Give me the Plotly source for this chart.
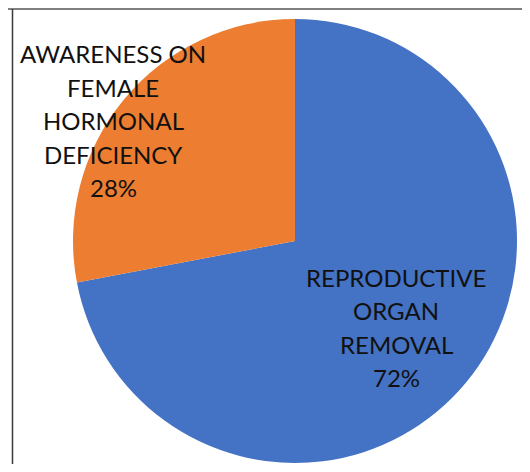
import plotly.graph_objects as go

categories = ["REPRODUCTIVE ORGAN REMOVAL", "AWARENESS ON FEMALE HORMONAL DEFICIENCY"]
label_lines = [["REPRODUCTIVE", "ORGAN", "REMOVAL"], ["AWARENESS ON", "FEMALE", "HORMONAL", "DEFICIENCY"]]
values = [72, 28]
colors = ["#4472C4", "#ED7D31"]

# figure size (page body has an 8px default margin)
W, H = 514, 456
total = sum(values)
CX, CY, R = 287, 233, 222  # pie centre / radius in px from top-left

fig = go.Figure()
fig.add_trace(go.Pie(
    labels=categories,
    values=values,
    sort=False,
    direction="clockwise",
    rotation=0,
    marker=dict(colors=colors, line=dict(width=0)),
    textinfo="none",
    hoverinfo="label+percent",
    showlegend=False,
    domain=dict(x=[(CX - R) / W, (CX + R) / W], y=[(H - CY - R) / H, (H - CY + R) / H]),
))

# label block positions: centre x, first-line centre y (px)
label_pos = [(388, 269), (105, 45.5)]
LINE_STEP = 33.5
for lines, v, (x, y0) in zip(label_lines, values, label_pos):
    all_lines = lines + [f"{round(v / total * 100)}%"]
    for i, t in enumerate(all_lines):
        fig.add_annotation(
            x=x / W, y=1 - (y0 + i * LINE_STEP) / H, xref="paper", yref="paper",
            text=t, showarrow=False, xanchor="center", yanchor="middle", align="center",
            font=dict(family="Lato", size=24, color="#111111"),
        )

# frame lines
fig.add_shape(type="line", xref="paper", yref="paper", x0=0, x1=1, y0=1 - 1 / H, y1=1 - 1 / H,
              line=dict(color="#7f7f7f", width=2))
fig.add_shape(type="line", xref="paper", yref="paper", x0=4.5 / W, x1=4.5 / W, y0=0, y1=1 - 1 / H,
              line=dict(color="#3a3a3a", width=1.5))

fig.update_layout(width=W, height=H, margin=dict(l=0, r=0, t=0, b=0),
                  paper_bgcolor="white", plot_bgcolor="white")
fig.write_html("out.html")
